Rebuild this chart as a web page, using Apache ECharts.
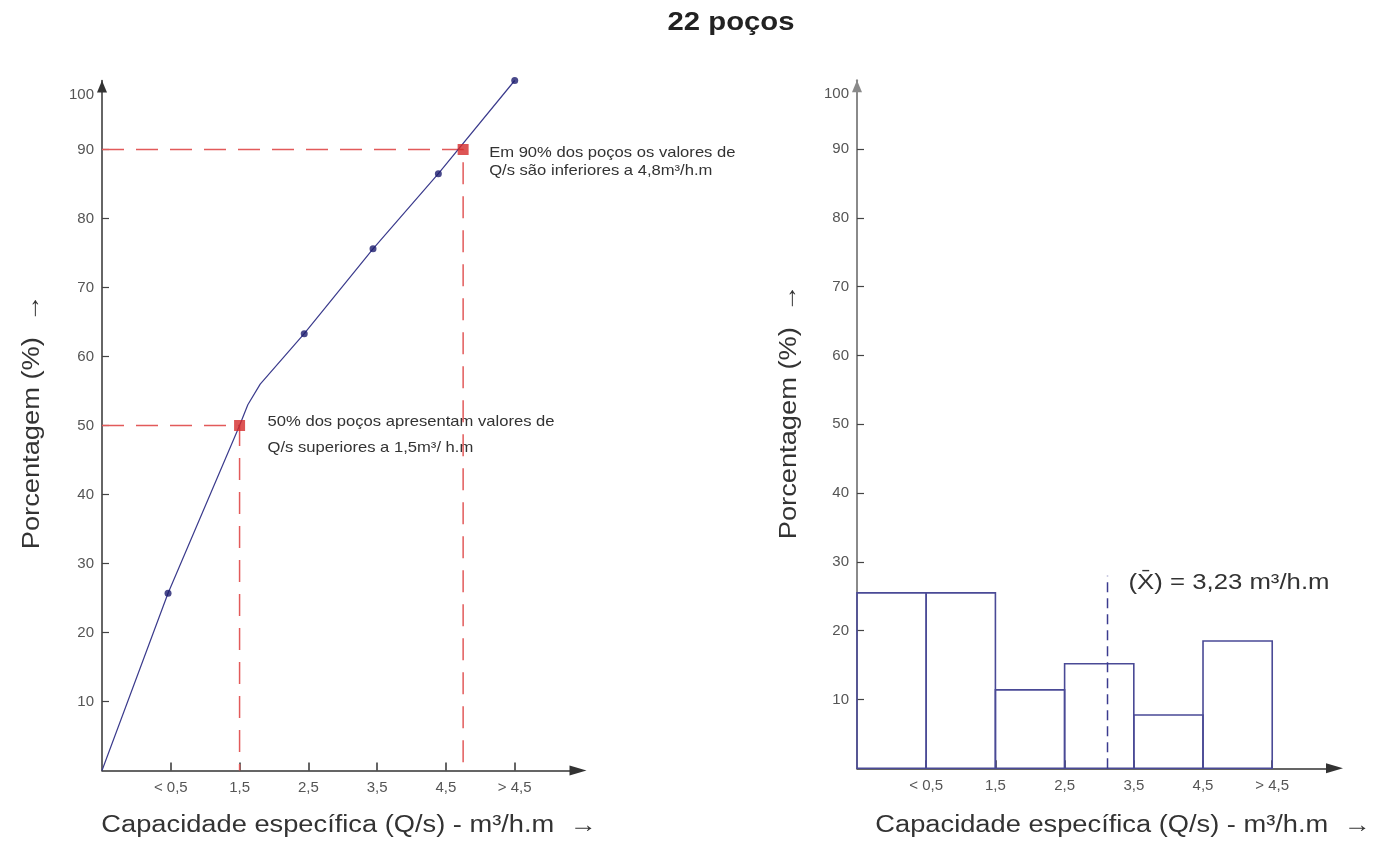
<!DOCTYPE html>
<html>
<head>
<meta charset="utf-8">
<title>22 poços</title>
<script src="https://cdn.jsdelivr.net/npm/echarts@6/dist/echarts.min.js"></script>
<style>
  html, body { margin: 0; padding: 0; background: #fff; }
  #chart { width: 1381px; height: 844px; }
</style>
</head>
<body>
<div id="chart"></div>
<script>
const xTickValues = [0.5, 1.5, 2.5, 3.5, 4.5, 5.5]
const xTickLabels = ['< 0,5', '1,5', '2,5', '3,5', '4,5', '> 4,5']
const yTickValues = [10, 20, 30, 40, 50, 60, 70, 80, 90, 100]

// curva acumulada (painel esquerdo)
const curveX = [-0.5, 0.46, 1.5, 1.62, 1.8, 2.44, 3.44, 4.39, 5.5]
const curveY = [0, 25.7, 50, 53, 56, 63.3, 75.6, 86.5, 100]
const dotX = [0.46, 2.44, 3.44, 4.39, 5.5]
const dotY = [25.7, 63.3, 75.6, 86.5, 100]
const markX = [1.5, 4.75]
const markY = [50, 90]
const markText = [
  ['50% dos poços apresentam valores de', 'Q/s superiores a 1,5m³/ h.m'],
  ['Em 90% dos poços os valores de', 'Q/s são inferiores a 4,8m³/h.m']
]

// histograma (painel direito)
const binStart = [-0.5, 0.5, 1.5, 2.5, 3.5, 4.5]
const binEnd = [0.5, 1.5, 2.5, 3.5, 4.5, 5.5]
const binPct = [25.5, 25.5, 11.4, 15.2, 7.75, 18.5]
const meanX = 3.12
const meanTop = 28
const meanText = '(X\u0304) = 3,23 m³/h.m'

const titleText = '22 poços'
const xName = 'Capacidade específica (Q/s) - m³/h.m  →'
const yName = 'Porcentagem (%)  →'

const FONT = '"Liberation Sans", Arial, sans-serif'
const STRETCH = 1.17

const chart = echarts.init(document.getElementById('chart'))

function xAxis(gridIndex) {
  return {
    gridIndex,
    type: 'value',
    min: -0.5,
    max: gridIndex === 0 ? 6.42 : 6.4,
    axisLine: {
      onZero: false,
      lineStyle: { color: '#333', width: 1.5 },
      symbol: ['none', 'triangle'],
      symbolSize: [10, 17]
    },
    axisTick: { show: true, inside: true, length: 8, customValues: xTickValues, lineStyle: { color: '#333', width: 1.5 } },
    axisLabel: {
      customValues: xTickValues,
      margin: 10,
      color: '#555',
      fontSize: 15,
      fontFamily: FONT,
      formatter: v => xTickLabels[xTickValues.indexOf(v)] || ''
    },
    splitLine: { show: false }
  }
}

function yAxis(gridIndex) {
  return {
    gridIndex,
    type: 'value',
    min: 0,
    max: 100,
    axisLine: {
      onZero: false,
      lineStyle: { color: gridIndex === 0 ? '#333' : '#8a8a8a', width: gridIndex === 0 ? 1.5 : 2 },
      symbol: ['none', 'triangle'],
      symbolSize: [10, 12],
      symbolOffset: [0, -6]
    },
    axisTick: { show: true, inside: true, length: 7, customValues: yTickValues.slice(0, 9), lineStyle: { color: '#444', width: 1.2 } },
    axisLabel: {
      customValues: yTickValues,
      margin: 8,
      color: '#555',
      fontSize: 15,
      fontFamily: FONT,
      formatter: v => v === 100 ? '{t|100}' : String(v),
      rich: { t: { fontSize: 15, color: '#555', fontFamily: FONT, padding: [28, 0, 0, 0] } }
    },
    splitLine: { show: false }
  }
}

function stretchedText(x, y, text, size, opts) {
  return Object.assign({
    type: 'text',
    x, y,
    scaleX: STRETCH,
    style: {
      text,
      fill: '#333',
      font: size + 'px ' + FONT,
      align: 'center',
      verticalAlign: 'middle'
    }
  }, opts || {})
}

const option = {
  backgroundColor: '#fff',
  animation: false,
  textStyle: { fontFamily: FONT },
  grid: [
    { left: 102, top: 80.5, width: 476, height: 690 },
    { left: 857, top: 80.3, width: 477.5, height: 688 }
  ],
  xAxis: [xAxis(0), xAxis(1)],
  yAxis: [yAxis(0), yAxis(1)],
  series: [
    {
      type: 'line',
      name: 'guia 90',
      xAxisIndex: 0, yAxisIndex: 0,
      data: [[-0.5, markY[1]], [markX[1], markY[1]], [markX[1], 0]],
      symbol: 'none',
      lineStyle: { color: '#e25a5a', width: 1.5, type: [22, 12] },
      z: 1
    },
    {
      type: 'line',
      name: 'guia 50',
      xAxisIndex: 0, yAxisIndex: 0,
      data: [[-0.5, markY[0]], [markX[0], markY[0]], [markX[0], 0]],
      symbol: 'none',
      lineStyle: { color: '#e25a5a', width: 1.5, type: [22, 12] },
      z: 1
    },
    {
      type: 'line',
      name: 'curva',
      xAxisIndex: 0, yAxisIndex: 0,
      data: curveX.map((x, i) => [x, curveY[i]]),
      symbol: 'none',
      lineStyle: { color: '#3a3a8c', width: 1.2 },
      z: 2
    },
    {
      type: 'scatter',
      name: 'pontos',
      xAxisIndex: 0, yAxisIndex: 0,
      data: dotX.map((x, i) => [x, dotY[i]]),
      symbolSize: 7,
      itemStyle: { color: '#1c1c6e' },
      z: 3
    },
    {
      type: 'scatter',
      name: 'marcos',
      xAxisIndex: 0, yAxisIndex: 0,
      data: markX.map((x, i) => [x, markY[i]]),
      symbol: 'rect',
      symbolSize: 11,
      itemStyle: { color: '#d42a2a' },
      z: 4
    },
    {
      type: 'custom',
      name: 'histograma',
      xAxisIndex: 1, yAxisIndex: 1,
      data: binPct.map((v, i) => [binStart[i], binEnd[i], v]),
      renderItem: (params, api) => {
        const p0 = api.coord([api.value(0), api.value(2)])
        const p1 = api.coord([api.value(1), 0])
        return {
          type: 'rect',
          shape: { x: p0[0], y: p0[1], width: p1[0] - p0[0], height: p1[1] - p0[1] },
          style: { fill: 'rgba(255,255,255,0)', stroke: '#4a4a96', lineWidth: 1.6 }
        }
      },
      z: 2
    },
    {
      type: 'line',
      name: 'media',
      xAxisIndex: 1, yAxisIndex: 1,
      data: [[meanX, 0], [meanX, meanTop]],
      symbol: 'none',
      lineStyle: { color: '#3b3b8f', width: 1.5, type: [10, 6] },
      z: 3
    }
  ]
}

chart.setOption(option)

// textos: títulos dos eixos e anotações ligadas aos pontos
const graphics = [
  stretchedText(731, 23, titleText, 25, { style: { text: titleText, fill: '#222', font: 'bold 25px ' + FONT, align: 'center', verticalAlign: 'middle' } }),
  stretchedText(33, 422, yName, 23.3, { rotation: Math.PI / 2 }),
  stretchedText(790, 412, yName, 23.3, { rotation: Math.PI / 2 }),
  stretchedText(349, 826, xName, 23.3),
  stretchedText(1123, 826, xName, 23.3)
]

const lineGap = [26, 18]
const textOffset = [[28, -3], [26, 4]]
markX.forEach((x, i) => {
  const p = chart.convertToPixel({ xAxisIndex: 0, yAxisIndex: 0 }, [x, markY[i]])
  markText[i].forEach((line, j) => {
    graphics.push(stretchedText(p[0] + textOffset[i][0], p[1] + textOffset[i][1] + j * lineGap[i], line, 14.2,
      { style: { text: line, fill: '#333', font: '14.2px ' + FONT, align: 'left', verticalAlign: 'middle' } }))
  })
})

const mp = chart.convertToPixel({ xAxisIndex: 1, yAxisIndex: 1 }, [meanX, meanTop])
graphics.push(stretchedText(mp[0] + 21, mp[1] + 7, meanText, 22,
  { style: { text: meanText, fill: '#333', font: '22px ' + FONT, align: 'left', verticalAlign: 'middle' } }))

chart.setOption({ graphic: graphics })
window.addEventListener('resize', () => chart.resize())
</script>
</body>
</html>
